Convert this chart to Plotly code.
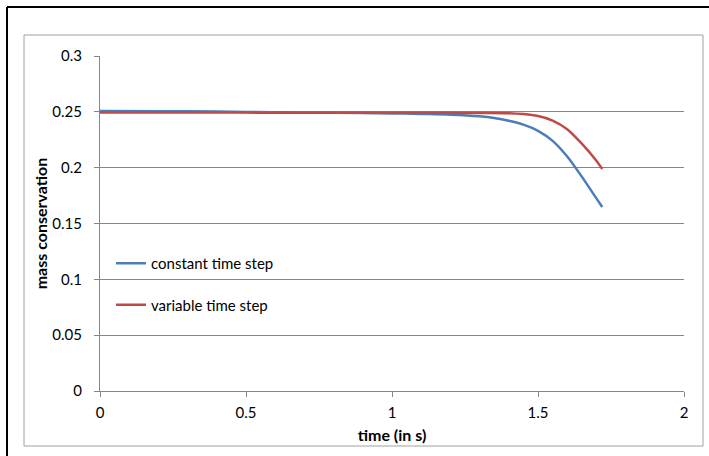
import plotly.graph_objects as go

time_const = [0, 0.2, 0.4, 0.6, 0.8, 1.0, 1.1, 1.2, 1.3, 1.35, 1.4, 1.45, 1.5, 1.55, 1.6, 1.65, 1.7, 1.72]
mass_const = [0.2508, 0.2506, 0.2502, 0.2497, 0.2492, 0.2486, 0.2481, 0.2475, 0.2460, 0.2445, 0.2420, 0.2385, 0.2330, 0.2240, 0.2100, 0.1920, 0.1725, 0.1648]

time_var = [0, 0.5, 1.0, 1.2, 1.3, 1.4, 1.45, 1.5, 1.55, 1.6, 1.65, 1.7, 1.72]
mass_var = [0.2495, 0.2493, 0.2492, 0.2491, 0.2490, 0.2488, 0.2480, 0.2462, 0.2422, 0.2345, 0.2215, 0.2062, 0.1988]

x_ticks = [0, 0.5, 1, 1.5, 2]
y_ticks = [0, 0.05, 0.1, 0.15, 0.2, 0.25, 0.3]
y_labels = ["0", "0.05", "0.1", "0.15", "0.2", "0.25", "0.3"]

W, H = 709, 456
L, R, T, B = 100, 25, 56, 65
pw, ph = W - L - R, H - T - B

def px(x):
    return (x - L) / pw

def py(y):
    return (H - B - y) / ph

font_family = "Lato, 'Open Sans', sans-serif"

fig = go.Figure()
fig.add_trace(go.Scatter(x=time_const, y=mass_const, mode="lines", name="constant time step",
                         line=dict(color="#4a7ebb", width=2.5, shape="spline", smoothing=0.8),
                         legendgroup="a"))
fig.add_trace(go.Scatter(x=time_var, y=mass_var, mode="lines", name="variable time step",
                         line=dict(color="#be4b48", width=2.5, shape="spline", smoothing=0.8),
                         legendgroup="b"))

fig.update_layout(
    width=W, height=H,
    margin=dict(l=L, r=R, t=T, b=B),
    paper_bgcolor="white", plot_bgcolor="white",
    font=dict(family=font_family, size=15, color="#000000"),
    showlegend=True,
    legend=dict(x=px(111), y=py(247), xanchor="left", yanchor="top",
                bgcolor="rgba(0,0,0,0)", font=dict(size=15), tracegroupgap=19,
                itemwidth=30),
    xaxis=dict(range=[0, 2], tickvals=x_ticks, ticktext=[str(v) for v in x_ticks],
               showgrid=False, zeroline=False, showline=True, linecolor="#868686", linewidth=1,
               ticks="outside", ticklen=5, tickcolor="#868686", ticklabelstandoff=3,
               title=dict(text="<b>time (in s)</b>", standoff=9, font=dict(size=16))),
    yaxis=dict(range=[0, 0.3], tickvals=y_ticks, ticktext=y_labels,
               showgrid=True, gridcolor="#868686", gridwidth=1, zeroline=False,
               showline=True, linecolor="#868686", linewidth=1,
               ticks="outside", ticklen=5, tickcolor="#868686", ticklabelstandoff=9,
               title=dict(text="<b>mass conservation</b>", standoff=0, font=dict(size=16))),
    shapes=[
        dict(type="rect", xref="paper", yref="paper", x0=px(24), x1=px(703), y0=py(446), y1=py(35),
             line=dict(color="#a0a0a0", width=1), fillcolor="rgba(0,0,0,0)", layer="below"),
        dict(type="line", xref="paper", yref="paper", x0=px(7), x1=px(712), y0=py(7), y1=py(7),
             line=dict(color="#000000", width=2)),
        dict(type="line", xref="paper", yref="paper", x0=px(7), x1=px(7), y0=py(7), y1=py(460),
             line=dict(color="#000000", width=2)),
    ],
)

fig.write_html("out.html", config={"displayModeBar": False},
               post_script="document.body.style.margin='0';document.body.style.overflow='hidden';")
